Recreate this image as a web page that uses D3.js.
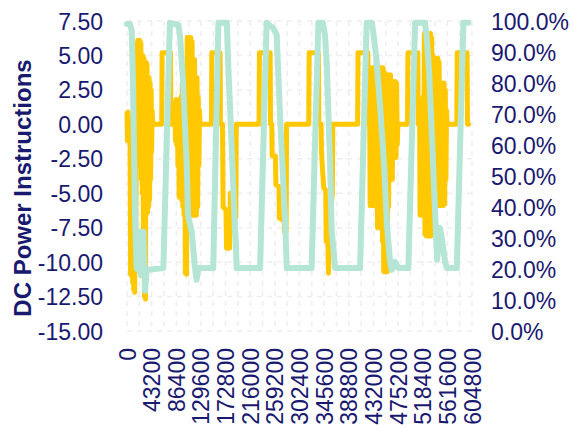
<!DOCTYPE html>
<html>
<head>
<meta charset="utf-8">
<script src="https://cdn.jsdelivr.net/npm/d3@7"></script>
<style>
  html, body { margin: 0; padding: 0; background: #ffffff; }
  svg { display: block; }
  text { font-family: "Liberation Sans", Arial, sans-serif; fill: #191970; }
</style>
</head>
<body>
<svg id="chart" width="574" height="428"></svg>
<script>
// ---- data (time in hours from start; axis labelled in seconds) ----
const xTickLabels = [0, 43200, 86400, 129600, 172800, 216000, 259200, 302400, 345600, 388800, 432000, 475200, 518400, 561600, 604800];
const leftTickLabels = [7.5, 5, 2.5, 0, -2.5, -5, -7.5, -10, -12.5, -15];
const rightTickLabels = [0, 0.1, 0.2, 0.3, 0.4, 0.5, 0.6, 0.7, 0.8, 0.9, 1.0];

// DC power instruction series
const powerHours = [
  0.0, 0.25, 0.5, 0.75, 1.0, 1.25, 1.5, 1.75, 2.0, 2.25, 2.5, 2.75, 3.0, 3.25, 3.5, 3.75, 4.0, 4.25, 4.5,
  4.75, 5.0, 5.25, 5.5, 5.75, 6.0, 6.25, 6.5, 6.75, 7.0, 7.25, 7.5, 7.75, 8.0, 8.25, 8.5, 8.75, 9.0, 9.25, 9.5,
  9.75, 10.0, 10.25, 10.5, 10.75, 11.0, 11.25, 11.5, 11.75, 12.0, 12.25, 12.5,
  16.9, 17.1, 21.2, 21.4,
  23.0, 23.3, 23.6, 23.9, 24.2, 24.5, 24.8, 25.1, 25.4, 25.7, 26.0, 26.3, 26.6, 26.9, 27.2, 27.5, 27.8, 28.1,
  28.4, 28.7, 29.0, 29.3, 29.6, 29.9, 30.2, 30.5, 30.8, 31.1, 31.4, 31.7, 32.0, 32.3, 32.6, 32.9, 33.2, 33.5,
  33.8, 34.1, 34.4, 34.7, 35.0, 35.3, 35.6,
  41.1, 41.3, 45.3, 45.5, 46.5, 46.8, 48.2, 48.5, 50.0, 50.3, 51.8, 52.1, 53.0, 53.2,
  64.3, 64.5, 69.7, 69.9, 70.5, 70.7, 72.3, 72.5, 74.0, 74.2, 76.5, 76.7, 77.5, 77.7,
  88.5, 88.7, 93.2, 93.4, 94.5, 94.7, 95.3, 95.8, 96.8, 97.0, 97.8, 98.1, 98.5, 99.4, 100.0, 100.2,
  112.3, 112.5, 117.3, 117.5, 118.2,
  118.4, 118.7, 119.0, 119.3, 119.6, 119.9, 120.2, 120.5, 120.8, 121.1, 121.4, 121.7, 122.0, 122.3, 122.6,
  122.9, 123.2, 123.5, 123.8, 124.1, 124.4, 124.7, 125.0, 125.3, 125.6, 125.9, 126.2, 126.5, 126.8, 127.1,
  127.4, 127.7, 128.0, 128.3, 128.6, 128.9, 129.2, 129.5, 129.8, 130.1, 130.4, 130.7, 131.0, 131.3, 131.6, 131.9,
  136.6, 136.8, 141.6, 141.8, 142.5,
  142.7, 143.0, 143.3, 143.6, 143.9, 144.2, 144.5, 144.8, 145.1, 145.4, 145.7, 146.0, 146.3, 146.6, 146.9,
  147.2, 147.5, 147.8, 148.1, 148.4, 148.7, 149.0, 149.3, 149.6, 149.9, 150.2, 150.5, 150.8, 151.1, 151.4,
  151.7, 152.0, 152.3, 152.6, 152.9, 153.2, 153.5, 153.8, 154.1, 154.4, 154.7, 155.0, 155.3, 155.6, 155.9,
  160.6, 160.8, 165.6, 165.8, 166.3
];
const powerValues = [
  0.8, -1.2, 0.9, -1.0, 0.7, -1.2, -0.5, -10.9, -4, -11.0, -3, -11.5, -6, -12.0, -5, -12.2, -4, -9, -2,
  5.8, -3.0, 6.1, -2.8, 6.0, -3.0, 6.1, -2.5, 5.9, -4, 5.0, -5, 5.0, -8, 4.8, -12.5, 4.5, -12.7, 4.5, -6.5,
  4.4, -6.4, 3.4, -6.0, 3.4, -5.5, 3.0, -4.0, 2.5, -2.0, 1.0, 0,
  0, 5.2, 5.2, 0,
  0, 1.6, -1.2, 1.8, -1.5, 1.5, -3, 1.5, -5.3, 1.8, -5.3, 2.0, -5.5, 3.0, -6.0, 3.0, -6.6, 3.0,
  -10.8, 3.5, -10.9, 6.3, -6.6, 6.3, -6.0, 6.3, -5.5, 6.3, -5.5, 6.0, -6.6, 4.7, -6.6, 4.7, -6.6, 3.4,
  -6.6, 3.4, -6.0, 2.0, -3, 1.0, 0,
  0, 5.2, 5.2, 0, 0, -6.0, -6.2, -9.0, -9.0, -5.0, -6.0, -6.8, -6.8, 0,
  0, 5.2, 5.2, 0, 0, -2.3, -2.3, -4.4, -4.5, -6.8, -7.0, -7.8, -7.8, 0,
  0, 5.2, 5.2, 0, 0, -2.0, -3.5, -4.6, -4.8, -8.5, -8.5, -10.8, -8.0, -6.0, -5.0, 0,
  0, 5.2, 5.2, 0, 0,
  -5.9, -0.5, -5.9, 4.1, -5.9, 4.1, -5.9, 4.1, -5.9, 4.1, -6.0, 4.1, -7.5, 4.1, -7.5,
  4.1, -7.5, 4.1, -7.5, 4.1, -8.5, 4.1, -10.7, 3.8, -10.7, 3.6, -10.7, 3.6, -10.7, 3.6,
  -6.0, 3.6, -4.0, 3.6, -4.0, 3.1, -4.0, 3.1, -2.4, 3.1, -2.4, 3.1, -2.4, 3.0, -1.5, 0,
  0, 5.2, 5.2, 0, 0,
  -6.6, 0.5, -6.6, 1.0, -6.6, 2.0, -6.6, 6.6, -8.0, 6.6, -8.1, 6.6, -8.1, 6.6, -8.1,
  6.6, -8.1, 6.6, -8.1, 6.3, -7.0, 5.0, -5.9, 4.8, -5.9, 4.8, -5.9, 4.8, -5.9, 4.8,
  -5.9, 4.5, -5.9, 3.0, -5.9, 3.0, -5.9, 3.0, -5.9, 3.0, -5.8, 2.5, -4.0, 1.0, 0,
  0, 5.2, 5.2, 0, 0
];

// State of charge series (fraction)
const socHours = [
  0.0, 1.5, 2.3, 2.9, 3.9, 4.7, 5.4, 6.3, 6.8, 7.3, 8.0, 8.8, 9.6, 17.7, 20.9, 25.0, 25.8, 27.3, 29.1, 29.7,
  31.5, 33.1, 33.9, 34.6, 42.0, 44.5, 48.6, 49.3, 51.0, 52.6, 53.0, 53.4, 64.8, 68.0, 71.2, 72.9, 74.5, 76.9,
  77.8, 89.9, 93.2, 95.4, 96.4, 97.3, 98.9, 99.7, 100.5, 101.3, 113.5, 116.7, 119.3, 121.3, 123.2, 125.2,
  126.6, 128.1, 128.9, 130.5, 132.1, 137.0, 140.3, 145.1, 145.9, 147.1, 148.6, 150.0, 151.0, 152.4, 153.4,
  154.9, 155.7, 160.6, 163.8, 166.2
];
const socValues = [
  0.99, 0.99, 0.968, 0.81, 0.374, 0.203, 0.197, 0.32, 0.18, 0.31, 0.32, 0.13, 0.197, 0.203, 0.994, 0.987, 0.955, 0.803, 0.535, 0.374,
  0.32, 0.203, 0.165, 0.203, 0.203, 0.994, 0.994, 0.858, 0.59, 0.32, 0.287, 0.203, 0.203, 0.994, 0.977, 0.955, 0.697, 0.374,
  0.203, 0.203, 0.994, 0.994, 0.955, 0.858, 0.535, 0.32, 0.268, 0.203, 0.203, 0.994, 0.994, 0.89, 0.73, 0.535,
  0.34, 0.223, 0.197, 0.223, 0.203, 0.203, 0.994, 0.994, 0.95, 0.84, 0.61, 0.39, 0.23, 0.332, 0.294,
  0.223, 0.203, 0.203, 0.994, 0.994
];

// ---- chart ----
const svg = d3.select("#chart");
const W = 574, H = 428;
const margin = { left: 127, right: 102, top: 21, bottom: 97 };
const x0 = margin.left, x1 = W - margin.right, y0 = margin.top, y1 = H - margin.bottom;
const textColor = "#191970";

const x = d3.scaleLinear().domain([0, 604800]).range([x0, x1]);
const yL = d3.scaleLinear().domain([-15, 7.5]).range([y1, y0]);
const yR = d3.scaleLinear().domain([0, 1]).range([y1, y0]);

// gridlines
const grid = svg.append("g");
grid.selectAll("line.h").data(leftTickLabels).join("line")
  .attr("x1", x0).attr("x2", x1)
  .attr("y1", d => yL(d)).attr("y2", d => yL(d))
  .attr("stroke", "#eeeeee").attr("stroke-width", 1.5).attr("stroke-dasharray", "5,5");
const vGrid = d3.range(0, 604800 + 1, 21600);
grid.selectAll("line.v").data(vGrid).join("line")
  .attr("x1", d => x(d)).attr("x2", d => x(d))
  .attr("y1", y0).attr("y2", y1)
  .attr("stroke", "#eeeeee").attr("stroke-width", 1.5).attr("stroke-dasharray", "5,5");

// series
const powerData = powerHours.map((h, i) => ({ t: h * 3600, v: powerValues[i] }));
const socData = socHours.map((h, i) => ({ t: h * 3600, v: socValues[i] }));

svg.append("path").datum(powerData)
  .attr("fill", "none").attr("stroke", "#ffc800").attr("stroke-width", 5)
  .attr("stroke-linejoin", "round").attr("stroke-linecap", "round")
  .attr("d", d3.line().x(d => x(d.t)).y(d => yL(d.v)));

svg.append("path").datum(socData)
  .attr("fill", "none").attr("stroke", "#b5e5d4").attr("stroke-width", 6)
  .attr("stroke-linejoin", "round").attr("stroke-linecap", "round")
  .attr("d", d3.line().x(d => x(d.t)).y(d => yR(d.v)));

// axes
const fs = 23;
const fmtLeft = v => d3.format(".2f")(v).replace("\u2212", "-");
const left = svg.append("g").attr("transform", `translate(${x0},0)`)
  .call(d3.axisLeft(yL).tickValues(leftTickLabels).tickFormat(fmtLeft).tickSize(0).tickPadding(24));
const right = svg.append("g").attr("transform", `translate(${x1},0)`)
  .call(d3.axisRight(yR).tickValues(rightTickLabels).tickFormat(d3.format(".1%")).tickSize(0).tickPadding(19));
const bottom = svg.append("g").attr("transform", `translate(0,${y1})`)
  .call(d3.axisBottom(x).tickValues(xTickLabels).tickFormat(d => String(d)).tickSize(0).tickPadding(0));

[left, right, bottom].forEach(g => {
  g.select(".domain").remove();
  g.selectAll("text").attr("fill", textColor).style("font-size", fs + "px")
    .style("font-family", '"Liberation Sans", Arial, sans-serif');
});
left.selectAll("text").attr("dy", "0.35em");
right.selectAll("text").attr("dy", "0.35em");
bottom.selectAll("text")
  .attr("transform", "rotate(-90)")
  .attr("text-anchor", "end")
  .attr("x", -17).attr("y", 0).attr("dy", "0.35em");

// axis title
svg.append("text")
  .attr("transform", `translate(31,${(y0 + y1) / 2 + 12}) rotate(-90)`)
  .attr("text-anchor", "middle")
  .attr("fill", textColor)
  .style("font-size", "24px").style("font-weight", "bold")
  .text("DC Power Instructions");
</script>
</body>
</html>
